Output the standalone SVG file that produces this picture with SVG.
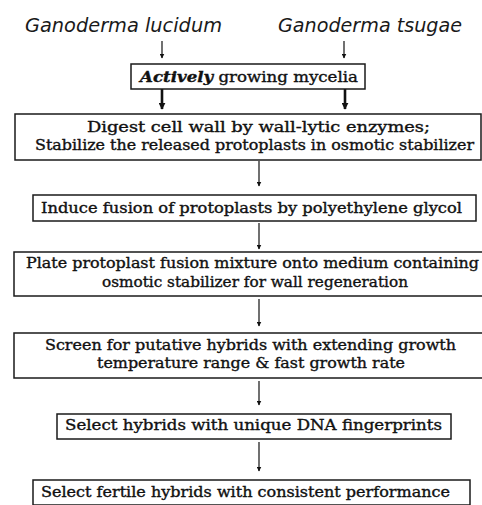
<svg xmlns="http://www.w3.org/2000/svg" width="482" height="505" viewBox="0 0 482 505">
<defs>
<marker id="ah" viewBox="0 0 10 10" refX="9" refY="5" markerWidth="5" markerHeight="5" markerUnits="userSpaceOnUse" orient="auto"><path d="M0,0 L10,5 L0,10 Z" fill="#111"/></marker>
<marker id="ahb" viewBox="0 0 10 10" refX="9" refY="5" markerWidth="7" markerHeight="7" markerUnits="userSpaceOnUse" orient="auto"><path d="M0,0 L10,5 L0,10 Z" fill="#111"/></marker>
<style>
.box{fill:#fff;stroke:#1a1a1a;stroke-width:1.5}
.t{font-family:"DejaVu Serif","Liberation Serif",serif;font-size:14px;fill:#111;stroke:#111;stroke-width:0.35;text-anchor:middle}
.ti{font-family:"DejaVu Sans","Liberation Sans",sans-serif;font-style:italic;font-size:19px;fill:#1a1a1a}
.c{stroke:#111;stroke-width:1.2;fill:none;marker-end:url(#ah)}
.cb{stroke:#111;stroke-width:2.6;fill:none;marker-end:url(#ahb)}
</style>
</defs>
<rect width="482" height="505" fill="#fff"/>
<g id="title-lucidum"><text class="ti" x="25" y="32" textLength="197" lengthAdjust="spacingAndGlyphs">Ganoderma lucidum</text></g>
<g id="title-tsugae"><text class="ti" x="278" y="32" textLength="184" lengthAdjust="spacingAndGlyphs">Ganoderma tsugae</text></g>
<g id="connectors">
<line class="c" x1="162" y1="41" x2="162" y2="58"/>
<line class="c" x1="344" y1="41" x2="344" y2="58"/>
<line class="cb" x1="162" y1="89" x2="162" y2="109"/>
<line class="cb" x1="345" y1="89" x2="345" y2="109"/>
<line class="c" x1="259" y1="161" x2="259" y2="186"/>
<line class="c" x1="259" y1="223" x2="259" y2="249"/>
<line class="c" x1="259" y1="299" x2="259" y2="326"/>
<line class="c" x1="259" y1="381" x2="259" y2="405"/>
<line class="c" x1="259" y1="442" x2="259" y2="471"/>
</g>
<g id="n1"><rect class="box" x="131" y="64" width="234" height="25"/><text class="t" x="249" y="82" textLength="218" lengthAdjust="spacingAndGlyphs"><tspan font-weight="bold" font-style="italic">Actively</tspan> growing mycelia</text></g>
<g id="n2"><rect class="box" x="15" y="114" width="466" height="46"/><text class="t" x="258.5" y="132" textLength="343" lengthAdjust="spacingAndGlyphs">Digest cell wall by wall-lytic enzymes;</text><text class="t" x="254.5" y="150" textLength="439" lengthAdjust="spacingAndGlyphs">Stabilize the released protoplasts in osmotic stabilizer</text></g>
<g id="n3"><rect class="box" x="33" y="195" width="443" height="26"/><text class="t" x="251.5" y="213" textLength="421" lengthAdjust="spacingAndGlyphs">Induce fusion of protoplasts by polyethylene glycol</text></g>
<g id="n4"><rect class="box" x="14" y="252" width="472" height="44"/><text class="t" x="252.5" y="268" textLength="453" lengthAdjust="spacingAndGlyphs">Plate protoplast fusion mixture onto medium containing</text><text class="t" x="255" y="287" textLength="306" lengthAdjust="spacingAndGlyphs">osmotic stabilizer for wall regeneration</text></g>
<g id="n5"><rect class="box" x="14" y="333" width="472" height="45"/><text class="t" x="250.5" y="350" textLength="411" lengthAdjust="spacingAndGlyphs">Screen for putative hybrids with extending growth</text><text class="t" x="251" y="368" textLength="308" lengthAdjust="spacingAndGlyphs">temperature range &amp; fast growth rate</text></g>
<g id="n6"><rect class="box" x="57" y="414" width="394" height="25"/><text class="t" x="253.5" y="430" textLength="377" lengthAdjust="spacingAndGlyphs">Select hybrids with unique DNA fingerprints</text></g>
<g id="n7"><rect class="box" x="33" y="480" width="437" height="25"/><text class="t" x="245.5" y="497" textLength="409" lengthAdjust="spacingAndGlyphs">Select fertile hybrids with consistent performance</text></g>
</svg>
